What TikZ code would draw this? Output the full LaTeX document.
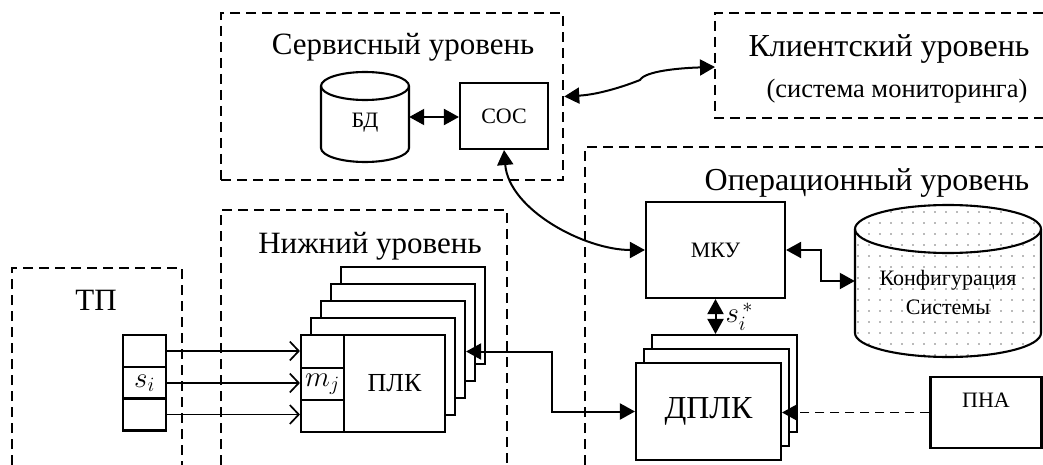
\RequirePackage{fix-cm}
\documentclass[tikz,border=0pt]{standalone}
\usepackage{fontspec}
\setmainfont{Liberation Serif}
\usetikzlibrary{arrows.meta,patterns.meta,positioning}

\tikzset{
  tierbox/.style={line width=2.5pt, dash pattern=on 10pt off 6pt},
  unit/.style={draw, line width=2.1pt, fill=white, inner sep=0pt},
  drum/.style={line width=2.1pt},
  link/.style={line width=2pt, {Triangle[length=15pt,width=16pt]}-{Triangle[length=15pt,width=16pt]}},
  dashlink/.style={line width=1.9pt, dash pattern=on 9pt off 6pt, -{Triangle[length=15pt,width=16pt]}},
  feed/.style={line width=1.6pt, -{Straight Barb[length=9pt,width=19pt,line width=1.7pt]}},
  title/.style={font=\fontsize{31}{36}\selectfont, anchor=base},
  small/.style={font=\fontsize{22}{26}\selectfont},
  mathtext/.style={font=\fontsize{29}{32}\selectfont},
}

\begin{document}
\begin{tikzpicture}[x=1pt, y=-1pt]
  \useasboundingbox (0,0) rectangle (1043,465);

  % levels
  \node[tierbox, draw, minimum width=342pt, minimum height=167pt] (svc) at (392,96.5) {};
  \draw[tierbox] (1043,13) -| (715,118) -- (1043,118);
  \draw[tierbox] (585,465) |- (1043,147);
  \draw[tierbox] (221,465) |- (507,210) -- (507,465);
  \draw[tierbox] (12,465) |- (182,268) -- (182,465);
  \coordinate (cli) at (715,67);
  \coordinate (wave) at (640,80);
  \coordinate (jog) at (552,0);

  \node[title] (svctitle) at (403,55) {Сервисный уровень};
  \node[title, font=\fontsize{32}{36}\selectfont] (clititle) at (889,57) {Клиентский уровень};
  \node[anchor=base, font=\fontsize{26.5}{30}\selectfont] (clinote) at (897,98) {(система мониторинга)};
  \node[title, font=\fontsize{32}{36}\selectfont] (optitle) at (867,190) {Операционный уровень};
  \node[title] (lowtitle) at (370,253) {Нижний уровень};
  \node[title] (tptitle) at (96,310) {ТП};

  % service level
  \draw[drum, fill=white] (321,86) -- (321,148) arc[start angle=180, end angle=0, x radius=44, y radius=14]
    -- (409,86) arc[start angle=0, end angle=-180, x radius=44, y radius=14] -- cycle;
  \draw[drum] (321,86) arc[start angle=180, end angle=0, x radius=44, y radius=14];
  \node[minimum width=88pt, minimum height=62pt, inner sep=0pt] (db) at (365,117) {};
  \node[small] (dbtext) at (365,123) {БД};
  \node[unit, small, minimum width=88pt, minimum height=66pt] (sos) at (504,116) {СОС};

  % operational level
  \node[unit, small, minimum width=139pt, minimum height=96pt] (mku) at (715.5,250) {МКУ};
  \draw[drum, pattern={Dots[distance=11pt, radius=0.9pt]}, pattern color=black!55]
    (855,229) -- (855,333) arc[start angle=180, end angle=0, x radius=93, y radius=24]
    -- (1041,229) arc[start angle=0, end angle=-180, x radius=93, y radius=24] -- cycle;
  \draw[drum] (855,229) arc[start angle=180, end angle=0, x radius=93, y radius=24];
  \node[minimum width=186pt, minimum height=104pt, inner sep=0pt] (cfg) at (948,281) {};
  \node[align=center, font=\fontsize{22}{29}\selectfont] (cfgtext) at (948,292) {Конфигурация\\Системы};
  \node[unit, minimum width=111pt, minimum height=71pt] (pna) at (986,412.5) {};
  \node[small] (pnatext) at ([yshift=12pt]pna.center) {ПНА};
  \foreach \k in {2,1}
    \node[unit, minimum width=145pt, minimum height=97pt] (dplc\k) at (708.5+8*\k, 411.5-14*\k) {};
  \node[unit, minimum width=145pt, minimum height=97pt, font=\fontsize{32}{36}\selectfont] (dplc) at (708.5,411.5) {ДПЛК};

  % lower level and process
  \foreach \k in {4,3,2,1}
    \node[unit, minimum width=144pt, minimum height=97pt] (plc\k) at (373+10*\k, 383.5-17*\k) {};
  \node[unit, minimum width=144pt, minimum height=97pt] (plc) at (373,383.5) {};
  \node[font=\fontsize{26}{30}\selectfont] (plctext) at (394.5,383.5) {ПЛК};
  \node[unit, minimum width=43pt, minimum height=32.3pt] (m1) at (322.5,351.5) {};
  \node[unit, mathtext, minimum width=43pt, minimum height=32.3pt] (m2) at (322.5,384) {$m_j$};
  \node[unit, minimum width=43pt, minimum height=32.3pt] (m3) at (322.5,416) {};
  \node[unit, minimum width=43pt, minimum height=32pt] (s1) at (144.5,351) {};
  \node[unit, mathtext, minimum width=43pt, minimum height=32pt] (s2) at (144.5,383) {$s_i$};
  \node[unit, minimum width=43pt, minimum height=32pt] (s3) at (144.5,414.5) {};

  % connectors
  \foreach \r in {1,2,3}
    \draw[feed] (s\r.east) -- (s\r.east -| m\r.west);
  \draw[link] (db.east) -- (db.east -| sos.west);
  \draw[link] (svc.east) .. controls +(35,-2) and +(-15,6) .. (wave)
    .. controls +(5,-9) and +(-35,1) .. (cli);
  \draw[link] (sos.south) .. controls +(5,60) and +(-60,0) .. (mku.west);
  \draw[link] (mku.south) -- node[right, mathtext, inner sep=9pt] (sstar) {$s_i^{\,*}$} (mku.south |- dplc2.north);
  \draw[link] (mku.east) -- ++(35,0) |- (cfg.west);
  \draw[link] (plc2.east |- m1) -- (jog |- m1) -- (jog |- dplc) -- (dplc.west);
  \draw[dashlink] (pna.west) -- (pna.west -| dplc.east);
\end{tikzpicture}
\end{document}
